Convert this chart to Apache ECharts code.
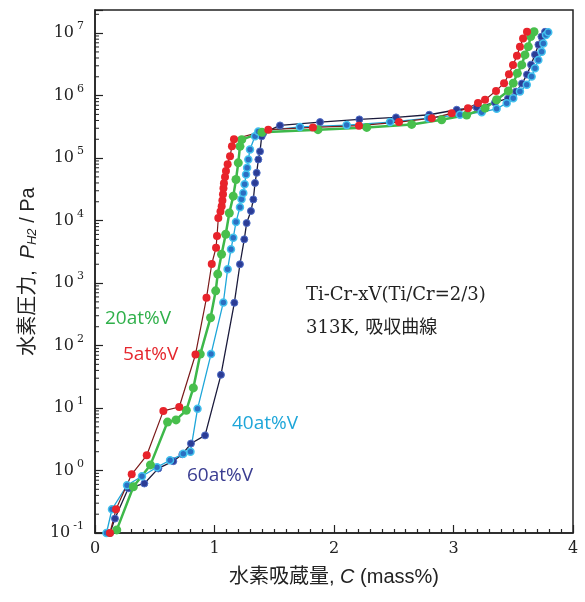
<!DOCTYPE html>
<html>
<head>
<meta charset="utf-8">
<script src="https://cdn.jsdelivr.net/npm/echarts@6/dist/echarts.min.js"></script>
<style>
html, body { margin: 0; padding: 0; background: #fff; }
#chart { width: 585px; height: 602px; }
</style>
</head>
<body>
<div id="chart"></div>
<script>
// hydrogen content C (mass%) and pressure (Pa) for each alloy
var c5 = [0.125, 0.176, 0.307, 0.433, 0.572, 0.705, 0.841, 0.933, 0.977, 1.013, 1.021, 1.032, 1.05, 1.06, 1.066, 1.071, 1.075, 1.079, 1.088, 1.096, 1.11, 1.13, 1.146, 1.163,
  1.45, 1.824, 2.209, 2.544, 2.818, 2.985, 3.121, 3.205, 3.264, 3.356, 3.423, 3.464, 3.498, 3.531, 3.556, 3.582, 3.615];
var p5 = [0.1, 0.24, 0.87, 1.75, 9.0, 10.4, 72, 580, 2020, 3680, 5660, 1.1e4, 1.4e4, 1.7e4, 2.1e4, 2.65e4, 3.3e4, 3.96e4, 5.0e4, 6.2e4, 8.0e4, 1.07e5, 1.54e5, 2.0e5,
  2.85e5, 3.1e5, 3.3e5, 3.77e5, 4.36e5, 5.2e5, 6.3e5, 7.6e5, 8.6e5, 1.19e6, 1.58e6, 2.2e6, 3.1e6, 4.36e6, 6.07e6, 8.2e6, 1.05e7];

var c20 = [0.182, 0.321, 0.464, 0.607, 0.678, 0.764, 0.823, 0.881, 0.967, 1.01, 1.027, 1.059, 1.094, 1.124, 1.157, 1.18, 1.199, 1.213, 1.228, 1.397,
  1.866, 2.274, 2.65, 2.901, 3.11, 3.264, 3.361, 3.459, 3.5, 3.534, 3.571, 3.598, 3.626, 3.646, 3.674];
var p20 = [0.112, 0.55, 1.23, 5.96, 6.46, 9.2, 21, 73, 279, 750, 1390, 2890, 6030, 1.32e4, 2.46e4, 4.54e4, 8.4e4, 1.54e5, 1.97e5, 2.58e5,
  2.85e5, 3.1e5, 3.46e5, 4.1e5, 4.9e5, 6.3e5, 8.6e5, 1.19e6, 1.58e6, 2.27e6, 3.1e6, 4.48e6, 6.07e6, 8.8e6, 1.05e7];

var c40 = [0.096, 0.142, 0.268, 0.393, 0.519, 0.628, 0.739, 0.799, 0.858, 0.971, 1.074, 1.11, 1.138, 1.157, 1.18, 1.213, 1.226, 1.241, 1.252, 1.264, 1.273, 1.283, 1.297, 1.339, 1.367,
  1.715, 2.106, 2.469, 2.789, 3.054, 3.236, 3.361, 3.445, 3.5, 3.556, 3.613, 3.654, 3.682, 3.71, 3.738, 3.752, 3.774, 3.793];
var p40 = [0.1, 0.24, 0.58, 0.81, 1.13, 1.46, 1.85, 2.0, 9.7, 73, 489, 1670, 3480, 5320, 9460, 1.64e4, 2.2e4, 2.77e4, 3.8e4, 5.46e4, 7.0e4, 9.5e4, 1.37e5, 2.23e5, 2.67e5,
  3.15e5, 3.37e5, 3.77e5, 4.36e5, 4.94e5, 5.43e5, 6.15e5, 7.57e5, 9.1e5, 1.16e6, 1.49e6, 2.02e6, 2.74e6, 3.72e6, 5.05e6, 6.85e6, 9.3e6, 1.03e7];

var c60 = [0.126, 0.167, 0.279, 0.413, 0.53, 0.655, 0.731, 0.803, 0.921, 1.054, 1.166, 1.213, 1.249, 1.269, 1.305, 1.325, 1.339, 1.353, 1.367, 1.381, 1.395, 1.408,
  1.548, 1.883, 2.212, 2.519, 2.797, 3.027, 3.194, 3.347, 3.456, 3.523, 3.573, 3.615, 3.649, 3.682, 3.711, 3.736, 3.766];
var p60 = [0.1, 0.17, 0.52, 0.62, 1.08, 1.41, 1.82, 2.7, 3.65, 34, 483, 2000, 5010, 9120, 1.42e4, 2.18e4, 4.0e4, 5.8e4, 9.5e4, 1.28e5, 2.23e5, 2.51e5,
  3.33e5, 3.77e5, 4.16e5, 4.48e5, 4.94e5, 5.94e5, 6.46e5, 7.76e5, 9.0e5, 1.16e6, 1.56e6, 2.17e6, 3.13e6, 4.53e6, 6.53e6, 8.77e6, 1.05e7];

var seriesNames = ['60at%V', '40at%V', '20at%V', '5at%V'];
var xTicks = [0, 1, 2, 3, 4];
var minorSteps = [2, 3, 4, 5, 6, 7, 8, 9];
var decades = [-1, 0, 1, 2, 3, 4, 5, 6, 7];

var yMin = 0.1;
var yMax = Math.pow(10, 7.37);

function pairs(c, p) {
  return c.map(function (x, i) { return [x, p[i]]; });
}

// minor ticks of the log axis (2..9 x 10^n)
var minorTickData = [];
decades.forEach(function (d) {
  minorSteps.forEach(function (m) {
    var v = m * Math.pow(10, d);
    if (v < yMax) minorTickData.push([0, v]);
  });
});

var chart = echarts.init(document.getElementById('chart'));

var option = {
  animation: false,
  backgroundColor: '#fff',
  grid: {
    left: 95,
    right: 12,
    top: 10,
    bottom: 69,
    show: true,
    borderColor: '#222',
    borderWidth: 1.5
  },
  xAxis: {
    type: 'value',
    min: 0,
    max: 4,
    interval: 1,
    axisLine: { lineStyle: { color: '#222', width: 1.5 } },
    axisTick: { inside: true, length: 8, lineStyle: { color: '#222', width: 1.2 } },
    minorTick: { show: true, splitNumber: 10, length: 4, lineStyle: { color: '#222', width: 1.2 } },
    splitLine: { show: false },
    axisLabel: {
      margin: 8,
      color: '#222',
      fontFamily: 'DejaVu Serif',
      fontSize: 16,
      formatter: function (v) { return xTicks.indexOf(v) >= 0 ? String(v) : ''; }
    },
    name: '{n|水素吸蔵量, }{i|C}{n| (mass%)}',
    nameLocation: 'middle',
    nameGap: 34,
    nameTextStyle: {
      rich: {
        n: { fontFamily: '"Liberation Sans", "Noto Sans CJK JP"', fontSize: 20, color: '#222' },
        i: { fontFamily: '"Liberation Sans"', fontStyle: 'italic', fontSize: 20, color: '#222' }
      }
    }
  },
  yAxis: {
    type: 'log',
    logBase: 10,
    min: yMin,
    max: yMax,
    axisLine: { lineStyle: { color: '#222', width: 1.5 } },
    axisTick: { inside: true, length: 8, lineStyle: { color: '#222', width: 1.2 } },
    splitLine: { show: false },
    axisLabel: {
      margin: 11,
      formatter: function (v) {
        var e = Math.log10(v);
        var r = Math.round(e);
        if (Math.abs(e - r) > 0.01) return '';
        return '{b|10}{s|' + r + '}';
      },
      rich: {
        b: { fontFamily: 'DejaVu Serif', fontSize: 16, color: '#222', lineHeight: 24 },
        s: { fontFamily: 'DejaVu Serif', fontSize: 11, color: '#222', verticalAlign: 'top', lineHeight: 12, padding: [0, 0, 0, 3] }
      }
    },
    name: '{n|水素圧力,  }{i|P}{sub|H2}{n| / Pa}',
    nameLocation: 'middle',
    nameGap: 56,
    nameTextStyle: {
      rich: {
        n: { fontFamily: '"Liberation Sans", "Noto Sans CJK JP"', fontSize: 20, color: '#222' },
        i: { fontFamily: '"Liberation Sans"', fontStyle: 'italic', fontSize: 21, color: '#222' },
        sub: { fontFamily: '"Liberation Sans"', fontStyle: 'italic', fontSize: 13, color: '#222', verticalAlign: 'bottom', lineHeight: 14 }
      }
    }
  },
  series: [
    {
      type: 'custom',
      silent: true,
      z: 5,
      data: minorTickData,
      renderItem: function (params, api) {
        var p = api.coord([api.value(0), api.value(1)]);
        return {
          type: 'line',
          shape: { x1: p[0], y1: p[1], x2: p[0] + 4, y2: p[1] },
          style: { stroke: '#222', lineWidth: 1 }
        };
      }
    },
    {
      name: seriesNames[0],
      type: 'line',
      data: pairs(c60, p60),
      symbol: 'circle',
      symbolSize: 7,
      lineStyle: { color: '#1b1b3c', width: 1.3 },
      itemStyle: { color: '#2b3c95', borderColor: '#4f6dc6', borderWidth: 1 }
    },
    {
      name: seriesNames[1],
      type: 'line',
      data: pairs(c40, p40),
      symbol: 'circle',
      symbolSize: 7,
      lineStyle: { color: '#1ea6d9', width: 1.3 },
      itemStyle: { color: '#2b6fc2', borderColor: '#43c2ee', borderWidth: 1.5 }
    },
    {
      name: seriesNames[2],
      type: 'line',
      data: pairs(c20, p20),
      symbol: 'circle',
      symbolSize: 9,
      lineStyle: { color: '#3db84a', width: 2.5 },
      itemStyle: { color: '#48bf4c' }
    },
    {
      name: seriesNames[3],
      type: 'line',
      data: pairs(c5, p5),
      symbol: 'circle',
      symbolSize: 8,
      lineStyle: { color: '#7a1a1a', width: 1.2 },
      itemStyle: { color: '#e8232b' }
    }
  ],
  graphic: [
    { type: 'text', left: 123, top: 345, style: { text: '5at%V', fill: '#e5262d', font: '19px "Open Sans"' } },
    { type: 'text', left: 105, top: 309, style: { text: '20at%V', fill: '#2fb04a', font: '19px "Open Sans"' } },
    { type: 'text', left: 232, top: 414, style: { text: '40at%V', fill: '#1ea6d9', font: '19px "Open Sans"' } },
    { type: 'text', left: 187, top: 466, style: { text: '60at%V', fill: '#3a3d91', font: '19px "Open Sans"' } },
    { type: 'text', left: 306, top: 286, style: { text: 'Ti-Cr-xV(Ti/Cr=2/3)', fill: '#222', font: '18px "DejaVu Serif", "Noto Sans CJK JP"' } },
    { type: 'text', left: 306, top: 319, style: { text: '313K, 吸収曲線', fill: '#222', font: '18px "DejaVu Serif", "Noto Sans CJK JP"' } }
  ]
};

chart.setOption(option);
</script>
</body>
</html>
